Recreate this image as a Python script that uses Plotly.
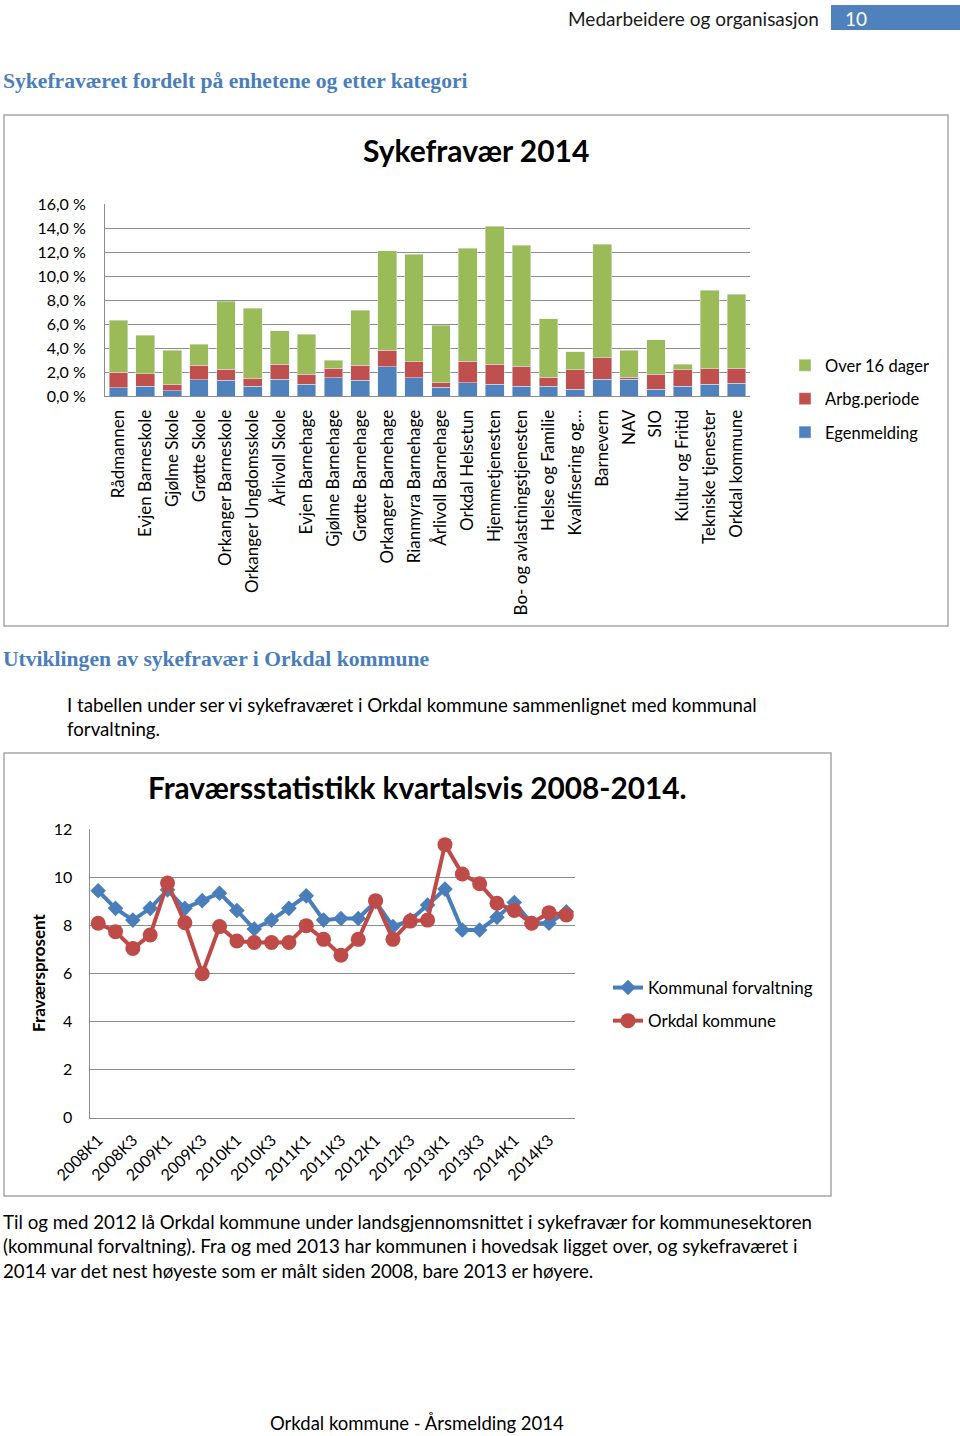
import plotly.graph_objects as go

W, H = 960, 1436

# ---------------- data: bar chart ----------------
units = ["Rådmannen", "Evjen Barneskole", "Gjølme Skole", "Grøtte Skole",
         "Orkanger Barneskole", "Orkanger Ungdomsskole", "Årlivoll Skole",
         "Evjen Barnehage", "Gjølme Barnehage", "Grøtte Barnehage",
         "Orkanger Barnehage", "Rianmyra Barnehage", "Årlivoll Barnehage",
         "Orkdal Helsetun", "Hjemmetjenesten", "Bo- og avlastningstjenesten",
         "Helse og Familie", "Kvalifisering og…", "Barnevern", "NAV", "SIO",
         "Kultur og Fritid", "Tekniske tjenester", "Orkdal kommune"]
egenmelding = [0.67, 0.80, 0.42, 1.36, 1.30, 0.83, 1.39, 0.97, 1.53, 1.30,
               2.42, 1.53, 0.75, 1.10, 0.97, 0.80, 0.80, 0.56, 1.39, 1.39,
               0.56, 0.83, 1.00, 1.08]
arbgperiode = [1.33, 1.06, 0.56, 1.20, 0.92, 0.67, 1.25, 0.86, 0.80, 1.25,
               1.39, 1.31, 0.36, 1.78, 1.67, 1.70, 0.78, 1.64, 1.78, 0.17,
               1.25, 1.36, 1.28, 1.25]
over16 = [4.30, 3.20, 2.83, 1.75, 5.67, 5.83, 2.78, 3.30, 0.64, 4.58,
          8.28, 8.97, 4.78, 9.44, 11.50, 10.06, 4.86, 1.47, 9.47, 2.25,
          2.89, 0.47, 6.53, 6.14]
bar_ticks = [0, 2, 4, 6, 8, 10, 12, 14, 16]
bar_ticktext = ["0,0 %", "2,0 %", "4,0 %", "6,0 %", "8,0 %", "10,0 %",
                "12,0 %", "14,0 %", "16,0 %"]

# ---------------- data: line chart ----------------
quarters = ["2008K1", "2008K2", "2008K3", "2008K4",
            "2009K1", "2009K2", "2009K3", "2009K4",
            "2010K1", "2010K2", "2010K3", "2010K4",
            "2011K1", "2011K2", "2011K3", "2011K4",
            "2012K1", "2012K2", "2012K3", "2012K4",
            "2013K1", "2013K2", "2013K3", "2013K4",
            "2014K1", "2014K2", "2014K3", "2014K4"]
kommunal = [9.43, 8.70, 8.21, 8.70, 9.47, 8.70, 9.02, 9.33, 8.61, 7.84,
            8.21, 8.70, 9.22, 8.21, 8.28, 8.28, 8.98, 7.94, 8.21, 8.84,
            9.50, 7.80, 7.80, 8.33, 8.94, 8.08, 8.08, 8.56]
orkdal = [8.08, 7.73, 7.03, 7.59, 9.75, 8.10, 5.98, 7.94, 7.34, 7.28,
          7.28, 7.28, 7.98, 7.41, 6.75, 7.41, 9.02, 7.41, 8.17, 8.21,
          11.35, 10.13, 9.72, 8.91, 8.61, 8.08, 8.52, 8.42]
line_ticks = [0, 2, 4, 6, 8, 10, 12]
shown_quarters = quarters[0::2]

FONT = "Lato"
GREEN, RED, BLUE = "#9BBB59", "#C0504D", "#4F81BD"


def px(x):
    return x / W


def py(y):
    return 1 - y / H


fig = go.Figure()

fig.add_trace(go.Bar(x=units, y=egenmelding, name="Egenmelding",
                     marker=dict(color=BLUE), legend="legend",
                     legendgroup="a", legendrank=3, xaxis="x", yaxis="y"))
fig.add_trace(go.Bar(x=units, y=arbgperiode, name="Arbg.periode",
                     marker=dict(color=RED), legend="legend",
                     legendgroup="b", legendrank=2, xaxis="x", yaxis="y"))
fig.add_trace(go.Bar(x=units, y=over16, name="Over 16 dager",
                     marker=dict(color=GREEN), legend="legend",
                     legendgroup="c", legendrank=1, xaxis="x", yaxis="y"))

fig.add_trace(go.Scatter(x=quarters, y=kommunal, name="Kommunal forvaltning",
                         mode="lines+markers",
                         line=dict(color="#4A7EBB", width=4),
                         marker=dict(symbol="diamond", size=12, color="#4A7EBB"),
                         legend="legend2", legendgroup="k",
                         xaxis="x2", yaxis="y2"))
fig.add_trace(go.Scatter(x=quarters, y=orkdal, name="Orkdal kommune",
                         mode="lines+markers",
                         line=dict(color="#BE4B48", width=4),
                         marker=dict(symbol="circle", size=15, color="#BE4B48"),
                         legend="legend2", legendgroup="o",
                         xaxis="x2", yaxis="y2"))

grid = "#8c8c8c"

fig.update_layout(
    width=W, height=H,
    margin=dict(l=0, r=0, t=0, b=0),
    paper_bgcolor="white", plot_bgcolor="white",
    font=dict(family=FONT, color="#000000", size=16),
    barmode="stack", bargap=0.3,
    xaxis=dict(domain=[px(105), px(750)], anchor="y", type="category",
               tickangle=-90, tickfont=dict(size=17, family=FONT),
               showline=True, linecolor=grid, ticks="", showgrid=False,
               ticklabelstandoff=6, automargin=False),
    yaxis=dict(domain=[py(396), py(204)], anchor="x", range=[0, 16],
               tickvals=bar_ticks, ticktext=bar_ticktext,
               tickfont=dict(size=16, family=FONT),
               showgrid=True, gridcolor=grid, gridwidth=1,
               showline=True, linecolor=grid, zeroline=False,
               ticklabelstandoff=15, automargin=False),
    xaxis2=dict(domain=[px(89.5), px(575)], anchor="y2", type="category",
                range=[-0.5, 27.5], tickvals=shown_quarters,
                ticktext=shown_quarters, tickangle=-45,
                tickfont=dict(size=16, family=FONT), showgrid=False,
                showline=True, linecolor=grid, ticks="",
                ticklabelstandoff=6, automargin=False),
    yaxis2=dict(domain=[py(1117.5), py(829)], anchor="x2", range=[0, 12],
                tickvals=line_ticks, tickfont=dict(size=16, family=FONT),
                showgrid=True, gridcolor=grid, gridwidth=1,
                showline=True, linecolor=grid, zeroline=False,
                ticklabelstandoff=13, automargin=False),
    legend=dict(x=px(785), y=py(348), xanchor="left", yanchor="top",
                traceorder="grouped", tracegroupgap=9,
                font=dict(size=16.5, family=FONT), itemwidth=30,
                bgcolor="rgba(0,0,0,0)"),
    legend2=dict(x=px(608), y=py(970), xanchor="left", yanchor="top",
                 traceorder="grouped", tracegroupgap=8,
                 font=dict(size=17, family=FONT),
                 bgcolor="rgba(0,0,0,0)"),
    showlegend=True,
)

shapes = [
    # header box
    dict(type="rect", xref="paper", yref="paper", x0=px(831), x1=px(960),
         y0=py(30), y1=py(5), fillcolor="#4F81BD", line=dict(width=0)),
    # chart borders
    dict(type="rect", xref="paper", yref="paper", x0=px(4), x1=px(948),
         y0=py(626), y1=py(115), line=dict(color="#a6a6a6", width=1.5)),
    dict(type="rect", xref="paper", yref="paper", x0=px(4), x1=px(831),
         y0=py(1196), y1=py(753), line=dict(color="#a6a6a6", width=1.5)),
]
fig.update_layout(shapes=shapes)

ann = []


def text(x, y, s, size=17, color="#000000", bold=False, family=FONT,
         xanchor="left", angle=0):
    if bold:
        s = "<b>" + s + "</b>"
    ann.append(dict(x=px(x), y=py(y), xref="paper", yref="paper", text=s,
                    showarrow=False, xanchor=xanchor, yanchor="middle",
                    textangle=angle,
                    font=dict(size=size, color=color, family=family)))


HEAD = "#4A7EBB"
SERIF = "Liberation Serif"
BODY = 18.7
text(821, 18, "Medarbeidere og organisasjon", size=19, color="#1a1a1a",
     xanchor="right")
text(843, 18, "10", size=19, color="white")
text(1, 81, "Sykefraværet fordelt på enhetene og etter kategori", size=21.6,
     color=HEAD, bold=True, family=SERIF)
text(476, 150, "Sykefravær 2014", size=30, bold=True, xanchor="center")
text(1, 659, "Utviklingen av sykefravær i Orkdal kommune", size=21.6,
     color=HEAD, bold=True, family=SERIF)
text(65, 705, "I tabellen under ser vi sykefraværet i Orkdal kommune "
     "sammenlignet med kommunal", size=BODY)
text(65, 729, "forvaltning.", size=BODY)
text(417, 787, "Fraværsstatistikk kvartalsvis 2008-2014.", size=29.8,
     bold=True, xanchor="center")
text(38, 973, "Fraværsprosent", size=17, bold=True, xanchor="center",
     angle=-90)
text(1, 1222, "Til og med 2012 lå Orkdal kommune under landsgjennomsnittet "
     "i sykefravær for kommunesektoren", size=BODY)
text(1, 1246, "(kommunal forvaltning). Fra og med 2013 har kommunen i "
     "hovedsak ligget over, og sykefraværet i", size=BODY)
text(1, 1271, "2014 var det nest høyeste som er målt siden 2008, bare 2013 "
     "er høyere.", size=BODY)
text(417, 1423, "Orkdal kommune - Årsmelding 2014", size=18.5,
     xanchor="center")

fig.update_layout(annotations=ann)

fig.write_html("out.html",
               config={"displayModeBar": False},
               post_script="document.body.style.margin='0';"
                           "document.body.style.overflow='hidden';")
